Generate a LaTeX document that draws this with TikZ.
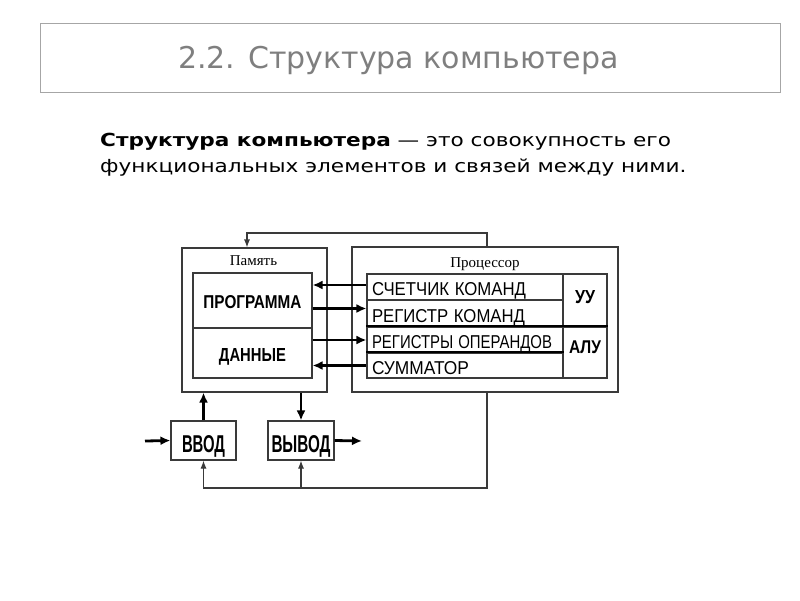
\documentclass[tikz,border=0pt]{standalone}
\usepackage{fontspec}
\usepackage{graphicx}
\setmainfont{DejaVu Sans}
\newfontfamily\arialf{Liberation Sans}
\newfontfamily\timesf{Liberation Serif}
\usetikzlibrary{arrows.meta,calc}
\definecolor{linec}{HTML}{3A3A3A}
\definecolor{titlec}{HTML}{7F7F7F}
\definecolor{framec}{HTML}{A6A6A6}
\begin{document}
\begin{tikzpicture}[x=1pt,y=-1pt,
  box/.style={draw=linec, line width=1.1pt, inner sep=0pt},
  cell/.style={box, minimum width=196pt, text width=186pt, align=left, font=\arialf, text height=17pt, text depth=0pt},
  thickarr/.style={draw=black, line width=2.8pt, -{Latex[length=10pt,width=9pt]}},
  thinarr/.style={draw=linec, line width=1.1pt, -{Latex[length=8pt,width=6pt]}}]
\useasboundingbox (0,0) rectangle (800,600);
% title
\node[draw=framec, line width=0.9pt, minimum width=740pt, minimum height=69pt, inner sep=0pt] (tbox) at (410,57.5) {};
\node[anchor=base, text=titlec, font=\fontsize{30}{36}\selectfont, inner sep=0pt] (title) at (398.5,68) {2.2. Структура компьютера};
% body
\node[anchor=base west, inner sep=0pt, font=\fontsize{18}{20}\selectfont] (body1) at (100,146) {\scalebox{1.2}[1]{\textbf{Структура компьютера} — это совокупность его}};
\node[anchor=base west, inner sep=0pt, font=\fontsize{18}{20}\selectfont] (body2) at (100,172) {\scalebox{1.2}[1]{функциональных элементов и связей между ними.}};
% memory
\node[box, minimum width=145pt, minimum height=144pt] (mem) at (254.5,320) {};
\node[anchor=base, inner sep=0pt, font=\timesf\fontsize{15}{17}\selectfont] (memlbl) at (253.5,265) {Память};
\node[box, minimum width=119pt, minimum height=55pt, text height=15pt, text depth=0pt] (prog) at (252.5,300.5) {\resizebox{98pt}{13pt}{\arialf\bfseries ПРОГРАММА}};
\node[box, minimum width=119pt, minimum height=50pt, text height=16pt, text depth=0pt] (data) at (252.5,353) {\resizebox{67pt}{13pt}{\arialf\bfseries ДАННЫЕ}};
% processor
\node[box, minimum width=266pt, minimum height=145pt] (proc) at (485,319.5) {};
\node[anchor=base, inner sep=0pt, font=\timesf\fontsize{15}{17}\selectfont] (proclbl) at (485,267) {Процессор};
\node[cell, minimum height=26pt] (r1) at (465,287) {\resizebox{154pt}{13pt}{СЧЕТЧИК КОМАНД}};
\node[cell, minimum height=27pt] (r2) at (465,313.5) {\resizebox{153pt}{13pt}{РЕГИСТР КОМАНД}};
\node[cell, minimum height=26pt] (r3) at (465,340) {\resizebox{180pt}{13pt}{РЕГИСТРЫ ОПЕРАНДОВ}};
\node[cell, minimum height=25pt] (r4) at (465,365.5) {\resizebox{97pt}{13pt}{СУММАТОР}};
\node[box, minimum width=44pt, minimum height=53pt, text height=5pt, text depth=0pt] (uu) at (585,300.5) {\resizebox{20pt}{13pt}{\arialf\bfseries УУ}};
\node[box, minimum width=44pt, minimum height=51pt, text height=1pt, text depth=0pt] (alu) at (585,352.5) {\resizebox{32pt}{12.7pt}{\arialf\bfseries АЛУ}};
\draw[draw=black, line width=2pt] (r3.north west) -- (alu.north east);
\draw[draw=black, line width=2pt] (r4.north west) -- (r4.north east);
% memory <-> processor arrows
\draw[thickarr] ([yshift=2pt]r1.west) -- ([yshift=2pt]prog.east |- r1.west);
\draw[thickarr] ([yshift=5pt]prog.east |- r2.west) -- ([yshift=5pt]r2.west);
\draw[thickarr] (data.east |- r3.west) -- (r3.west);
\draw[thickarr] (r4.west) -- (data.east |- r4.west);
% top connector
\coordinate (tc) at (487,233);
\draw[thinarr] (proc.north -| tc) -- (tc) -| ([xshift=-7.5pt]mem.north);
% input / output
\node[box, minimum width=65pt, minimum height=39pt, text height=23pt, text depth=0pt] (vvod) at (203.5,440.5) {\resizebox{43pt}{17pt}{\arialf\bfseries ВВОД}};
\node[box, minimum width=66pt, minimum height=39pt, text height=23pt, text depth=0pt] (vyvod) at (301,440.5) {\resizebox{59pt}{17pt}{\arialf\bfseries ВЫВОД}};
\draw[thickarr, line width=2.4pt] (vvod.north) -- (vvod.north |- mem.south);
\draw[thickarr, line width=2.4pt] (vyvod.north |- mem.south) -- (vyvod.north);
\coordinate (inpt) at (145,441);
\coordinate (outpt) at (362,441);
\draw[thickarr] (inpt) -- (vvod.west);
\draw[thickarr] (vyvod.east) -- (outpt);
% bottom connector
\coordinate (bc) at (487,488);
\draw[thinarr] (proc.south -| bc) -- (bc) -| (vvod.south);
\draw[thinarr] (vyvod.south |- bc) -- (vyvod.south);
\end{tikzpicture}
\end{document}
